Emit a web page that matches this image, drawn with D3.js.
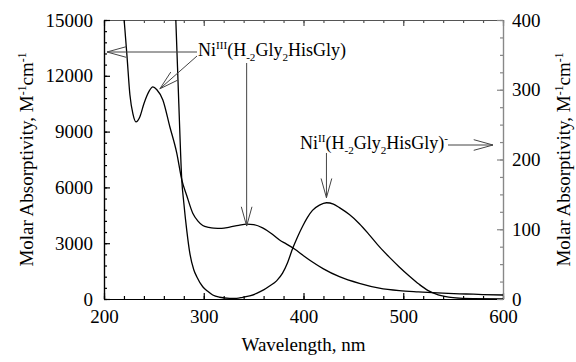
<!DOCTYPE html>
<html><head><meta charset="utf-8">
<script src="https://cdn.jsdelivr.net/npm/d3@7"></script>
<style>
body{margin:0;background:#fff;}
</style></head>
<body><svg id="c" width="576" height="362"></svg>
<script>
// ---- data ----
const xTicks = [200, 300, 400, 500, 600];
const yLeftTicks = [0, 3000, 6000, 9000, 12000, 15000];
const yRightTicks = [0, 100, 200, 300, 400];

// Ni(III) complex, left axis (M^-1 cm^-1)
const niIIIWavelength = [215,218,221,223,226,229,232,236,240,245,249,253,259,266,273,278,283,289,294,299,305,310,318,326,335,343,350,359,367,376,383,391,400,409,420,436,456,476,496,515,529,545,563,580,600];
const niIIIValue = [19000,16500,14460,13100,10970,9950,9520,9800,10500,11150,11400,11250,10700,9260,7830,6400,5550,4610,4200,3950,3850,3810,3800,3870,3960,4030,4000,3820,3550,3170,2950,2690,2330,1990,1620,1200,840,580,446,380,340,300,270,240,215];

// Ni(II) complex, right axis (M^-1 cm^-1)
const niIIWavelength = [268,272,275,278,280,283,286,290,293,299,304,309,316,326,333,339,346,353,360,366,373,379,384,389,394,399,404,409,416,423,430,436,446,456,466,476,486,496,506,516,525,535,550,570,600];
const niIIValue = [520,400,280,170,138,98,66,42,32,17.6,11,5.7,2.5,1,1,2.4,4.5,8,13,18.6,26,37,52,72,89,104,117,127,134.5,138,136,131,121,108,92,75,60,46,33,21,12,6,2,0.5,0.3];

// ---- layout ----
const FONT = "'Liberation Serif', 'Times New Roman', Times, serif";
const svg = d3.select("#c");
const L = 104, R = 503, T = 20, B = 299;
const x = d3.scaleLinear().domain([200, 600]).range([L, R]);
const yL = d3.scaleLinear().domain([0, 15000]).range([B, T]);
const yR = d3.scaleLinear().domain([0, 400]).range([B, T]);
const FS = 19;

svg.append("defs").append("clipPath").attr("id","clip")
  .append("rect").attr("x",L).attr("y",T).attr("width",R-L).attr("height",B-T);

function minor(step, dom){ const a=[]; for(let v=dom[0]; v<=dom[1]+1e-9; v+=step) a.push(v); return a; }

// bottom axis
const gB = svg.append("g").attr("transform",`translate(0,${B})`);
gB.call(d3.axisBottom(x).tickValues(minor(20,[200,600])).tickSize(-3).tickSizeOuter(0).tickFormat(""));
const gB2 = svg.append("g").attr("transform",`translate(0,${B})`);
gB2.call(d3.axisBottom(x).tickValues(xTicks).tickSize(-6).tickSizeOuter(0).tickPadding(11).tickFormat(d3.format("d")));
// top axis
const gT = svg.append("g").attr("transform",`translate(0,${T})`);
gT.call(d3.axisTop(x).tickValues(minor(20,[200,600])).tickSize(-3).tickSizeOuter(0).tickFormat(""));
const gT2 = svg.append("g").attr("transform",`translate(0,${T})`);
gT2.call(d3.axisTop(x).tickValues(xTicks).tickSize(-6).tickSizeOuter(0).tickFormat(""));
// left axis
const gL = svg.append("g").attr("transform",`translate(${L},0)`);
gL.call(d3.axisLeft(yL).tickValues(minor(600,[0,15000])).tickSize(-3).tickSizeOuter(0).tickFormat(""));
const gL2 = svg.append("g").attr("transform",`translate(${L},0)`);
gL2.call(d3.axisLeft(yL).tickValues(yLeftTicks).tickSize(-6).tickSizeOuter(0).tickPadding(11).tickFormat(d3.format("d")));
// right axis
const gR = svg.append("g").attr("transform",`translate(${R},0)`);
gR.call(d3.axisRight(yR).tickValues(minor(25,[0,400])).tickSize(-3).tickSizeOuter(0).tickFormat(""));
const gR2 = svg.append("g").attr("transform",`translate(${R},0)`);
gR2.call(d3.axisRight(yR).tickValues(yRightTicks).tickSize(-6).tickSizeOuter(0).tickPadding(9).tickFormat(d3.format("d")));

[gB,gB2,gL,gL2].forEach(g=>{g.selectAll("path,line").attr("stroke","#000").attr("stroke-width",1.2);});
[gT,gT2].forEach(g=>{g.selectAll("path,line").attr("stroke","#555").attr("stroke-width",1.2);});
[gR,gR2].forEach(g=>{g.selectAll("path,line").attr("stroke","#888").attr("stroke-width",1.2);});
[gB,gB2,gT,gT2,gL,gL2,gR,gR2].forEach(g=>g.attr("font-family",FONT).attr("font-size",FS));
svg.selectAll(".tick text").attr("font-size",FS).style("font-family",FONT).attr("fill","#000");

// curves
const lineL = d3.line().x((d,i)=>x(niIIIWavelength[i])).y(d=>yL(d)).curve(d3.curveMonotoneX);
const lineR = d3.line().x((d,i)=>x(niIIWavelength[i])).y(d=>yR(d)).curve(d3.curveMonotoneX);
const gC = svg.append("g").attr("clip-path","url(#clip)");
gC.append("path").attr("d",lineL(niIIIValue)).attr("fill","none").attr("stroke","#000").attr("stroke-width",1.3);
gC.append("path").attr("d",lineR(niIIValue)).attr("fill","none").attr("stroke","#000").attr("stroke-width",1.3);

// arrows
function arrow(x1,y1,x2,y2){
  const g = svg.append("g").attr("stroke","#444").attr("stroke-width",1).attr("fill","none");
  g.append("line").attr("x1",x1).attr("y1",y1).attr("x2",x2).attr("y2",y2);
  const a = Math.atan2(y2-y1,x2-x1), len=20, h=0.27;
  [a+Math.PI-h, a+Math.PI+h].forEach(t=>{
    g.append("line").attr("x1",x2).attr("y1",y2).attr("x2",x2+len*Math.cos(t)).attr("y2",y2+len*Math.sin(t));
  });
}
// Ni(III) arrows: to left axis, to 249 nm peak, to 345 nm shoulder
arrow(197, 52, x(203), 52);
arrow(197, 56, x(256), yL(11300));
arrow(x(343), 63, x(343), yL(4030)+2);
// Ni(II) arrows: to right axis, to 423 nm peak
arrow(448, 145, 493, 145);
arrow(x(423), 153, x(423), yR(138)-5);

// annotation texts
function rich(t, parts, size){
  let cur = 0;
  parts.forEach(p=>{
    const s = p[1]==="sup"?-7:(p[1]==="sub"?5:0);
    t.append("tspan").text(p[0]).attr("font-size", p[1]?size*0.62:size).attr("dy", s-cur);
    cur = s;
  });
  return t;
}
function txt(){ return svg.append("text").style("font-family",FONT).attr("fill","#000"); }
const AF = 18;
rich(txt().attr("x",198).attr("y",56).attr("font-size",AF),
  [["Ni"],["III","sup"],["(H"],["-2","sub"],["Gly"],["2","sub"],["HisGly)"]], AF);
rich(txt().attr("x",300).attr("y",149).attr("font-size",AF),
  [["Ni"],["II","sup"],["(H"],["-2","sub"],["Gly"],["2","sub"],["HisGly)"],["-","sup"]], AF);

// axis titles
txt().attr("x",(L+R)/2).attr("y",351).attr("text-anchor","middle").attr("font-size",FS).text("Wavelength, nm");
const yt = [["Molar Absorptivity, M"],["-1","sup"],["cm"],["-1","sup"]];
rich(txt().attr("transform",`translate(33,${(T+B)/2}) rotate(-90)`).attr("text-anchor","middle").attr("font-size",FS), yt, FS);
rich(txt().attr("transform",`translate(570,${(T+B)/2}) rotate(-90)`).attr("text-anchor","middle").attr("font-size",FS), yt, FS);
</script></body></html>
